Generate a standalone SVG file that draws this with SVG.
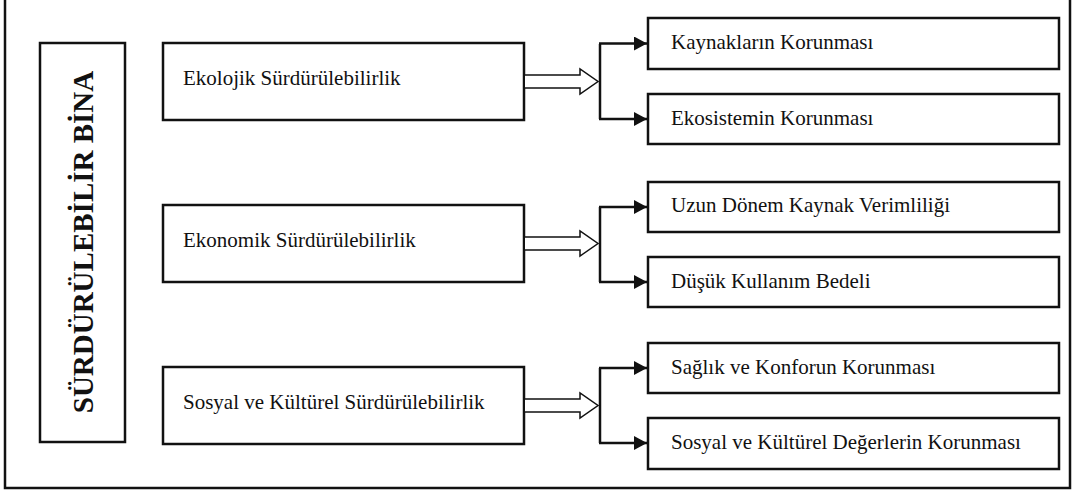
<svg xmlns="http://www.w3.org/2000/svg" width="1074" height="493" viewBox="0 0 1074 493">
<defs>
<style>
.box{fill:#fff;stroke:#111;stroke-width:2.5}
.frame{fill:none;stroke:#111;stroke-width:2.5}
.t{font-family:"Liberation Serif","Times New Roman",serif;font-size:21px;fill:#111}
.title{font-family:"Liberation Serif","Times New Roman",serif;font-size:29px;font-weight:bold;fill:#111}
.dbl{fill:#fff;stroke:#111;stroke-width:1.5;stroke-linejoin:miter}
.br{fill:none;stroke:#111;stroke-width:2.5}
</style>
<marker id="ah" viewBox="0 0 10 10" refX="10" refY="5" markerWidth="13" markerHeight="14" markerUnits="userSpaceOnUse" orient="auto" preserveAspectRatio="none">
<path d="M0,0 L10,5 L0,10 Z" fill="#111"/>
</marker>
</defs>
<rect width="1074" height="493" fill="#fff"/>
<path class="frame" d="M5,-2 V488 H1070 V-2"/>

<g id="node-main">
<rect class="box" x="40" y="43" width="85" height="399"/>
<text class="title" transform="translate(93,242) rotate(-90)" text-anchor="middle">SÜRDÜRÜLEBİLİR BİNA</text>
</g>

<g id="node-ekolojik">
<rect class="box" x="163" y="43" width="361" height="77"/>
<text class="t" x="183" y="85">Ekolojik Sürdürülebilirlik</text>
</g>
<g id="node-ekonomik">
<rect class="box" x="163" y="205" width="361" height="77"/>
<text class="t" x="183" y="247">Ekonomik Sürdürülebilirlik</text>
</g>
<g id="node-sosyal">
<rect class="box" x="163" y="367" width="361" height="77"/>
<text class="t" x="183" y="409">Sosyal ve Kültürel Sürdürülebilirlik</text>
</g>

<g id="node-kaynak">
<rect class="box" x="648" y="18" width="411" height="51"/>
<text class="t" x="671" y="49">Kaynakların Korunması</text>
</g>
<g id="node-ekosistem">
<rect class="box" x="648" y="94" width="411" height="50"/>
<text class="t" x="671" y="125">Ekosistemin Korunması</text>
</g>
<g id="node-uzun">
<rect class="box" x="648" y="182" width="411" height="50"/>
<text class="t" x="671" y="212">Uzun Dönem Kaynak Verimliliği</text>
</g>
<g id="node-dusuk">
<rect class="box" x="648" y="257" width="411" height="50"/>
<text class="t" x="671" y="288">Düşük Kullanım Bedeli</text>
</g>
<g id="node-saglik">
<rect class="box" x="648" y="343" width="411" height="50"/>
<text class="t" x="671" y="374">Sağlık ve Konforun Korunması</text>
</g>
<g id="node-degerler">
<rect class="box" x="648" y="418" width="411" height="51"/>
<text class="t" x="671" y="449">Sosyal ve Kültürel Değerlerin Korunması</text>
</g>

<g id="connectors">
<path class="dbl" d="M525,75 H580 V69 L598,81.5 L580,94 V88 H525"/>
<path class="dbl" d="M525,237 H580 V231 L598,243.5 L580,256 V250 H525"/>
<path class="dbl" d="M525,399 H580 V393 L598,405.5 L580,418 V412 H525"/>

<path class="br" d="M600,44 V119"/>
<path class="br" d="M599,43.5 H647" marker-end="url(#ah)"/>
<path class="br" d="M599,119 H647" marker-end="url(#ah)"/>

<path class="br" d="M600,207 V282"/>
<path class="br" d="M599,207 H647" marker-end="url(#ah)"/>
<path class="br" d="M599,282 H647" marker-end="url(#ah)"/>

<path class="br" d="M600,368 V443"/>
<path class="br" d="M599,368 H647" marker-end="url(#ah)"/>
<path class="br" d="M599,443 H647" marker-end="url(#ah)"/>
</g>
</svg>
